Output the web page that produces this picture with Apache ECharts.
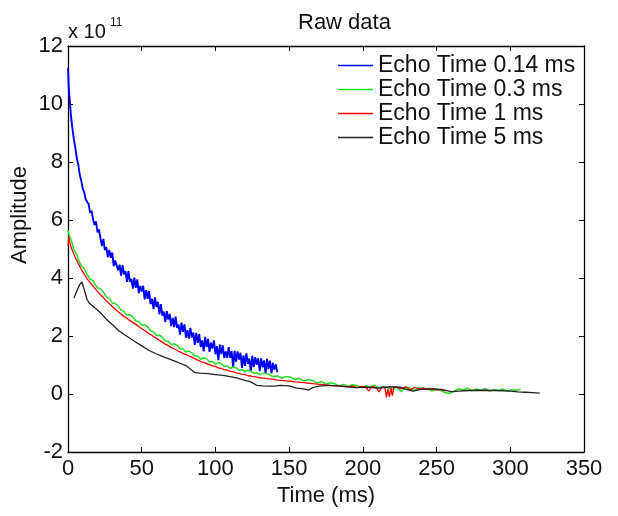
<!DOCTYPE html>
<html>
<head>
<meta charset="utf-8">
<script src="https://cdn.jsdelivr.net/npm/echarts@6/dist/echarts.min.js"></script>
<style>html,body{margin:0;padding:0;background:#fff}#c{width:618px;height:516px}</style>
</head>
<body>
<div id="c"></div>
<script>
var titleText = 'Raw data';
var xName = 'Time (ms)';
var yName = 'Amplitude';
var scaleText = 'x 10';
var scaleExp = '11';
var seriesNames = ['Echo Time 0.14 ms', 'Echo Time 0.3 ms', 'Echo Time 1 ms', 'Echo Time 5 ms'];
var xTicks = [0, 50, 100, 150, 200, 250, 300, 350];
var yTicks = [-2, 0, 2, 4, 6, 8, 10, 12];

// [time (ms), amplitude (x1e11)]
var blueData = [[0,11.25],[0.5,10.6],[1,10.25],[2,9.6],[3,9.15],[4,8.78],[5,8.48],[6,8.12],[7,7.9],[8,7.55],[9,7.35],[10,7.08],[11,6.95],[12,6.72],[13,6.62],[14,6.55],[15,6.25],[16,6.32],[17,6.02],[18,5.83],[19,5.95],[20,5.57],[21,5.68],[22,5.37],[23,5.1],[24,5.35],[25,4.96],[26,5.06],[27,4.72],[28,4.97],[29,4.7],[30,4.88],[31,4.41],[32,4.6],[33,4.66],[34,4.27],[35,4.46],[36,4.08],[37,4.44],[38,4.13],[39,4.24],[40,3.87],[41,4.24],[42,3.87],[43,3.97],[44,3.63],[45,4.01],[46,3.66],[47,3.95],[48,3.48],[49,3.73],[50,3.53],[51,3.73],[52,3.26],[53,3.58],[54,3.28],[55,3.55],[56,3.1],[57,3.28],[58,2.93],[59,3.33],[60,3.0],[61,3.18],[62,2.75],[63,3.1],[64,2.7],[65,2.84],[66,2.48],[67,2.86],[68,2.57],[69,2.76],[70,2.34],[71,2.62],[72,2.31],[73,2.67],[74,2.28],[75,2.39],[76,2.05],[77,2.46],[78,2.14],[79,2.4],[80,1.94],[81,2.2],[82,1.91],[83,2.28],[84,1.95],[85,2.12],[86,1.69],[87,2.11],[88,1.76],[89,2.07],[90,1.62],[91,1.85],[92,1.47],[93,1.97],[94,1.62],[95,1.9],[96,1.45],[97,1.77],[98,1.57],[99,1.85],[100,1.37],[101,1.65],[102,1.17],[103,1.7],[104,1.38],[105,1.68],[106,1.24],[107,1.47],[108,1.25],[109,1.62],[110,1.25],[111,1.48],[112,0.91],[113,1.49],[114,1.12],[115,1.47],[116,1.19],[117,1.42],[118,0.9],[119,1.33],[120,0.97],[121,1.4],[122,1.04],[123,1.22],[124,0.76],[125,1.32],[126,0.93],[127,1.27],[128,1.01],[129,1.23],[130,0.79],[131,1.23],[132,0.92],[133,1.16],[134,0.7],[135,1.21],[136,0.86],[137,1.15],[138,0.71],[139,1.07],[140,0.84],[141,1.02],[142,0.75]];

var greenData = [[0,5.65],[1,5.43],[2,5.35],[3,5.15],[4,4.96],[5,4.9],[6,4.81],[7,4.63],[8,4.57],[9,4.42],[10,4.41],[11,4.32],[12,4.26],[13,4.12],[14,4.09],[15,3.96],[16,3.98],[17,3.91],[18,3.8],[19,3.78],[20,3.66],[22,3.63],[24,3.51],[26,3.35],[28,3.3],[30,3.14],[32,3.12],[34,3.04],[36,2.89],[38,2.85],[40,2.72],[42,2.73],[44,2.65],[46,2.52],[48,2.5],[50,2.37],[52,2.38],[54,2.32],[56,2.18],[58,2.15],[60,2.02],[62,2.03],[64,1.96],[66,1.83],[68,1.82],[70,1.7],[72,1.73],[74,1.68],[76,1.56],[78,1.55],[80,1.45],[82,1.48],[84,1.42],[86,1.31],[88,1.31],[90,1.2],[92,1.24],[94,1.22],[96,1.1],[98,1.12],[100,1.03],[102,1.08],[104,1.04],[106,0.95],[108,0.97],[110,0.88],[112,0.93],[114,0.9],[116,0.82],[118,0.84],[120,0.76],[122,0.82],[124,0.79],[126,0.71],[128,0.74],[130,0.66],[133,0.72],[136,0.68],[139,0.6],[142,0.62],[145,0.55],[148,0.6],[151,0.58],[154,0.5],[157,0.54],[160,0.45],[163,0.5],[166,0.46],[169,0.38],[172,0.43],[175,0.34],[178,0.39],[181,0.35],[184,0.28],[187,0.33],[190,0.26],[193,0.32],[196,0.29],[199,0.22],[202,0.29],[205,0.24],[208,0.3],[211,0.2],[214,0.26],[217,0.22],[220,0.15],[223,0.25],[226,0.08],[229,0.24],[232,0.2],[235,0.12],[238,0.22],[241,0.16],[244,0.2],[247,0.1],[250,0.17],[253,0.12],[256,0.04],[259,0.02],[262,0.1],[265,0.18],[268,0.14],[271,0.2],[274,0.11],[277,0.17],[280,0.13],[283,0.18],[286,0.1],[289,0.15],[292,0.12],[295,0.17],[298,0.1],[301,0.15],[304,0.13],[307,0.16]];

var redData = [[0,5.1],[0.5,5.42],[1,5.28],[2,5.08],[3,4.94],[4,4.82],[5,4.69],[6,4.6],[7,4.49],[8,4.4],[9,4.29],[10,4.22],[11,4.13],[12,4.06],[13,3.97],[14,3.92],[15,3.84],[16,3.79],[17,3.72],[18,3.66],[19,3.6],[20,3.55],[22,3.42],[24,3.33],[26,3.21],[28,3.12],[30,3.02],[32,2.93],[34,2.84],[36,2.76],[38,2.67],[40,2.61],[42,2.53],[44,2.47],[46,2.4],[48,2.33],[50,2.25],[52,2.19],[54,2.11],[56,2.05],[58,1.98],[60,1.92],[62,1.85],[64,1.79],[66,1.72],[68,1.67],[70,1.6],[72,1.56],[74,1.5],[76,1.45],[78,1.4],[80,1.36],[82,1.31],[84,1.27],[86,1.22],[88,1.17],[90,1.12],[92,1.09],[94,1.05],[96,1.01],[98,0.97],[100,0.95],[102,0.9],[104,0.88],[106,0.84],[108,0.82],[110,0.78],[112,0.77],[114,0.73],[116,0.71],[118,0.68],[120,0.67],[122,0.63],[124,0.62],[126,0.6],[128,0.58],[130,0.56],[133,0.55],[136,0.52],[139,0.51],[142,0.48],[145,0.47],[148,0.45],[151,0.44],[154,0.42],[157,0.41],[160,0.39],[163,0.37],[166,0.36],[169,0.34],[172,0.33],[175,0.31],[178,0.3],[181,0.28],[184,0.28],[187,0.26],[190,0.25],[193,0.27],[196,0.22],[199,0.26],[202,0.24],[204,0.1],[206,0.26],[209,0.22],[211,0.07],[213,0.25],[215,0.2],[216,-0.12],[217,0.18],[218,-0.1],[219,0.2],[220,-0.06],[221,0.22],[223,0.24],[226,0.18],[229,0.25],[232,0.14],[235,0.23],[238,0.17],[241,0.21],[244,0.15],[247,0.19],[250,0.13],[253,0.16],[256,0.11]];

var blackData = [[4,3.3],[6,3.55],[8,3.78],[9.5,3.86],[11,3.6],[13,3.25],[14.7,3.12],[18,2.98],[22,2.8],[26,2.58],[30,2.4],[34,2.2],[38,2.05],[42,1.92],[45,1.82],[50,1.66],[55,1.5],[60,1.38],[64,1.3],[68,1.22],[72,1.14],[76,1.06],[80,0.98],[83,0.86],[86,0.74],[90,0.72],[95,0.7],[100,0.67],[105,0.64],[110,0.6],[115,0.55],[120,0.47],[124,0.42],[128,0.3],[132,0.28],[136,0.27],[140,0.27],[144,0.3],[150,0.28],[155,0.2],[160,0.18],[163,0.13],[166,0.22],[170,0.27],[176,0.3],[185,0.27],[195,0.22],[203,0.24],[210,0.2],[218,0.25],[225,0.24],[230,0.15],[234,0.1],[240,0.17],[248,0.18],[254,0.15],[260,0.08],[265,0.1],[272,0.12],[280,0.13],[290,0.12],[300,0.1],[305,0.07],[310,0.06],[315,0.05],[320,0.03]];

var colors = ['#0000ff', '#22dd22', '#ff0000', '#222222'];
var widths = [1.9, 1.5, 1.3, 1.3];
var FONT = 'Liberation Sans, Arial, sans-serif';
var TXT = '#111';

var chart = echarts.init(document.getElementById('c'), null, {renderer: 'canvas'});
var xMin = xTicks[0], xMax = xTicks[xTicks.length - 1];
var yMin = yTicks[0], yMax = yTicks[yTicks.length - 1];
var xStep = xTicks[1] - xTicks[0], yStep = yTicks[1] - yTicks[0];

function mkSeries(i, data) {
  return {
    name: seriesNames[i], type: 'line', data: data, showSymbol: false, symbol: 'none',
    xAxisIndex: 0, yAxisIndex: 0,
    lineStyle: {color: colors[i], width: widths[i]}, itemStyle: {color: colors[i]},
    animation: false, z: 2 + i
  };
}

function frameAxis(pos, isX) {
  return {
    type: 'value', min: isX ? xMin : yMin, max: isX ? xMax : yMax, interval: isX ? xStep : yStep, position: pos,
    axisLine: {show: true, onZero: false, lineStyle: {color: '#000', width: 1.3}},
    axisTick: {show: true, inside: true, length: 5, lineStyle: {color: '#000'}},
    axisLabel: {show: false}, splitLine: {show: false}
  };
}

chart.setOption({
  animation: false,
  backgroundColor: '#fff',
  textStyle: {fontFamily: FONT, color: TXT},
  title: {text: titleText, left: 293, top: 7, textStyle: {fontSize: 22, fontWeight: 'normal', color: TXT, fontFamily: FONT}},
  grid: {left: 68, right: 34, top: 46, bottom: 64, containLabel: false},
  legend: {
    orient: 'vertical', left: 333, top: 49, itemWidth: 35, itemHeight: 14, itemGap: 1,
    data: seriesNames.map(function (n, i) { return {name: n, icon: 'path://M0,0L35,0L35,1.4L0,1.4Z', itemStyle: {color: colors[i]}}; }),
    textStyle: {fontSize: 23, color: TXT, fontFamily: FONT}
  },
  xAxis: [{
    type: 'value', min: xMin, max: xMax, interval: xStep, position: 'bottom',
    name: xName, nameLocation: 'middle', nameGap: 30,
    nameTextStyle: {fontSize: 22, color: TXT, fontFamily: FONT},
    axisLine: {show: true, onZero: false, lineStyle: {color: '#000', width: 1.3}},
    axisTick: {show: true, inside: true, length: 5, lineStyle: {color: '#000'}},
    axisLabel: {fontSize: 22, color: TXT, margin: 6, fontFamily: FONT},
    splitLine: {show: false}
  }, frameAxis('top', true)],
  yAxis: [{
    type: 'value', min: yMin, max: yMax, interval: yStep, position: 'left',
    axisLine: {show: true, onZero: false, lineStyle: {color: '#000', width: 1.3}},
    axisTick: {show: true, inside: true, length: 5, lineStyle: {color: '#000'}},
    axisLabel: {fontSize: 22, color: TXT, margin: 5, fontFamily: FONT},
    splitLine: {show: false}
  }, frameAxis('right', false)],
  graphic: [
    {type: 'text', left: 68, top: 22, style: {text: scaleText, fontSize: 20, fill: TXT, fontFamily: FONT}},
    {type: 'text', left: 110, top: 17, style: {text: scaleExp, fontSize: 12, fill: TXT, fontFamily: FONT}},
    {type: 'text', x: 20, y: 215, rotation: Math.PI / 2, style: {text: yName, fontSize: 22, fill: TXT, fontFamily: FONT, align: 'center', verticalAlign: 'middle'}}
  ],
  series: [mkSeries(0, blueData), mkSeries(1, greenData), mkSeries(2, redData), mkSeries(3, blackData)]
});
</script>
</body>
</html>
